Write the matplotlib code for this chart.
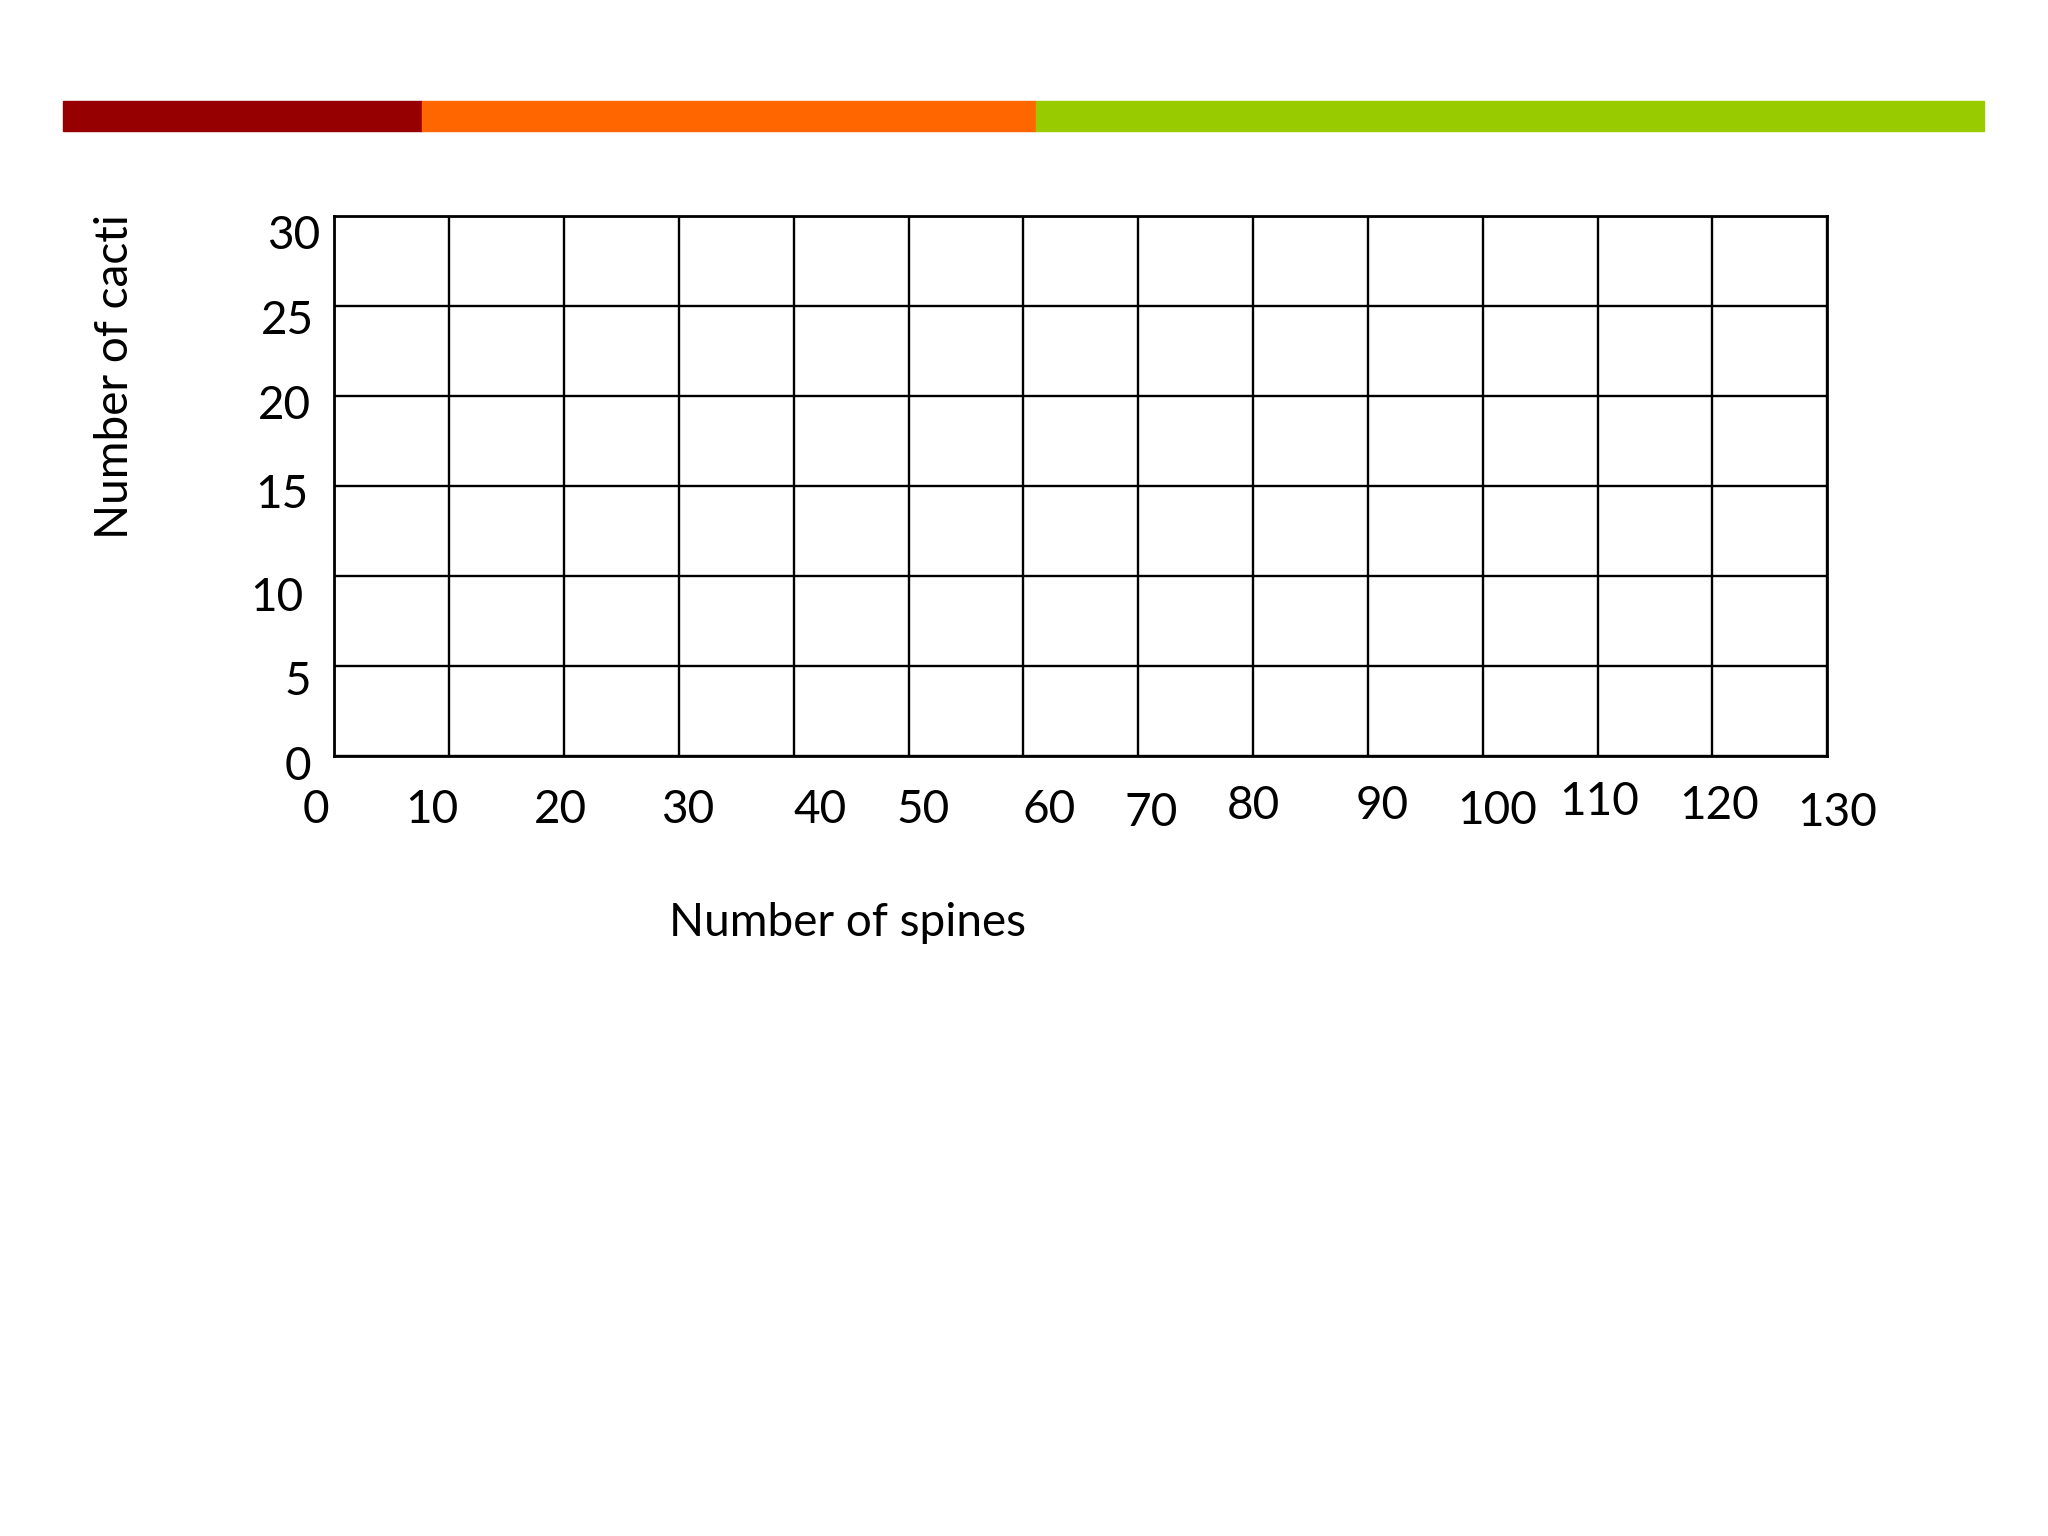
import matplotlib
matplotlib.use('Agg')
from matplotlib import pyplot as plt
from matplotlib.patches import Rectangle

# axis values
x_ticks = [0, 10, 20, 30, 40, 50, 60, 70, 80, 90, 100, 110, 120, 130]
x_labels = ['0', '10', '20', '30', '40', '50', '60', '70', '80', '90', '100', '110', '120', '130']
y_ticks = [0, 5, 10, 15, 20, 25, 30]
y_labels = ['0', '5', '10', '15', '20', '25', '30']
x_title = 'Number of spines'
y_title = 'Number of cacti'

# hand-placed label nudges (the labels in the slide are loose text boxes)
x_nudge = [-1.6, -1.5, -0.3, 0.8, 2.3, 1.25, 2.2, 1.1, 0.0, 1.25, 1.25, 0.1, 0.6, 0.9]
x_drop = [-0.099, -0.099, -0.099, -0.099, -0.099, -0.099, -0.099, -0.106, -0.092,
          -0.092, -0.101, -0.084, -0.092, -0.106]
y_nudge = [-0.58, -0.87, -1.22, -0.51, -0.58, -0.87, -1.16]
y_right = [-0.0157, -0.0157, -0.021, -0.0175, -0.0157, -0.014, -0.0096]

band_edges = [0.0306, 0.206, 0.5057, 0.9688]
band_colors = ['#960000', '#ff6600', '#99cc00']

plt.rcParams['font.family'] = ['Lato', 'DejaVu Sans']
fs = 33

fig = plt.figure(figsize=(20.48, 15.36), dpi=100)

# coloured band at the top of the slide
for i, c in enumerate(band_colors):
    fig.patches.append(Rectangle((band_edges[i], 0.915), band_edges[i + 1] - band_edges[i], 0.0195,
                                 transform=fig.transFigure, color=c, zorder=1))

ax = fig.add_axes([0.1633, 0.5077, 0.8922 - 0.1633, 0.8597 - 0.5077])
ax.set_xlim(x_ticks[0], x_ticks[-1])
ax.set_ylim(y_ticks[0], y_ticks[-1])
ax.set_xticks(x_ticks)
ax.set_yticks(y_ticks)
ax.set_xticklabels([])
ax.set_yticklabels([])
ax.tick_params(length=0)
ax.grid(True, color='black', linewidth=1.7)
for s in ax.spines.values():
    s.set_linewidth(2.0)
    s.set_color('black')

xt = ax.get_xaxis_transform()
for v, lab, dx, dy in zip(x_ticks, x_labels, x_nudge, x_drop):
    ax.text(v + dx, dy, lab, transform=xt, ha='center', va='center', fontsize=fs, clip_on=False)

yt = ax.get_yaxis_transform()
for v, lab, dy, rx in zip(y_ticks, y_labels, y_nudge, y_right):
    ax.text(rx, v + dy, lab, transform=yt, ha='right', va='center', fontsize=fs, clip_on=False)

fig.text(0.4136, 0.3990, x_title, ha='center', va='center', fontsize=fs)
fig.text(0.0561, 0.755, y_title, ha='center', va='center', rotation=90, fontsize=fs)

fig.savefig('out.png', dpi=100, facecolor='white')
